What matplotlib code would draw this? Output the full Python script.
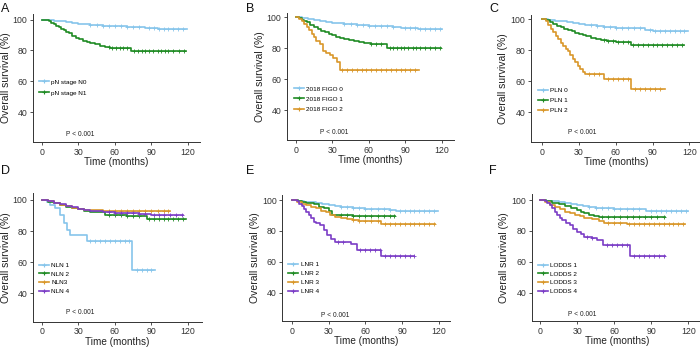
import numpy as np
import matplotlib
matplotlib.use("Agg")
import matplotlib.pyplot as plt
from matplotlib.lines import Line2D

plt.rcParams['font.family'] = ['Liberation Sans', 'DejaVu Sans']

BLUE = '#86C5EB'
GREEN = '#1F8B24'
ORANGE = '#D9972A'
PURPLE = '#7B3DC6'

# ---- panel A: pN stage ----
a_n0_t = [0, 5, 10, 15, 20, 25, 30, 35, 40, 45, 50, 55, 60, 70, 80, 85, 95, 105, 119]
a_n0_s = [100, 99.7, 99.2, 98.8, 98.4, 97.9, 97.4, 97, 96.6, 96.4, 96.1, 95.8, 95.6, 95.4, 95.2, 94.3, 94.0, 93.8, 93.8]
a_n0_c = [40, 45, 50, 55, 60, 65, 70, 75, 80, 88, 92, 96, 100, 104, 108, 112, 116]
a_n1_t = [0, 4, 6, 8, 10, 12, 14, 16, 18, 20, 22, 25, 28, 31, 34, 37, 40, 44, 48, 52, 56, 62, 73, 118]
a_n1_s = [100, 100, 99, 98, 97, 96, 95, 94, 93, 92, 91, 89.5, 88.3, 87.2, 86.2, 85.5, 84.8, 84, 83, 82.2, 81.8, 81.6, 79.5, 79.5]
a_n1_c = [55, 58, 61, 64, 67, 70, 76, 79, 82, 85, 88, 91, 95, 98, 101, 104, 108, 113, 117]

# ---- panel B: 2018 FIGO ----
b_f0_t = [0, 5, 10, 15, 20, 25, 30, 35, 40, 45, 50, 55, 60, 70, 80, 86, 100, 120]
b_f0_s = [100, 99.5, 98.8, 98.2, 97.6, 97.1, 96.6, 96.2, 95.8, 95.4, 95.1, 94.8, 94.6, 94.3, 94, 92.8, 92.6, 92.6]
b_f0_c = [40, 45, 50, 55, 60, 65, 70, 75, 80, 90, 94, 98, 102, 106, 110, 114, 118]
b_f1_t = [0, 3, 5, 7, 9, 12, 15, 18, 21, 24, 27, 30, 33, 36, 40, 44, 48, 52, 56, 62, 68, 75, 119]
b_f1_s = [100, 99.5, 98.5, 97.5, 96.8, 95.3, 94, 92.6, 91.3, 90.2, 89.2, 88.3, 87.5, 86.7, 86, 85.2, 84.5, 83.9, 83.4, 83, 82.6, 80.2, 80.2]
b_f1_c = [62, 66, 70, 77, 80, 83, 86, 89, 92, 96, 99, 102, 106, 110, 114, 118]
b_f2_t = [0, 3, 5, 7, 9, 11, 13, 15, 17, 20, 22, 25, 28, 31, 34, 36, 101]
b_f2_s = [100, 99, 97.5, 95.5, 93.5, 91.5, 89.5, 87, 84.5, 83, 78.5, 77, 75.5, 73.5, 71, 66, 66]
b_f2_c = [38, 42, 46, 50, 54, 58, 62, 66, 70, 74, 78, 82, 86, 90, 94, 98]

# ---- panel C: PLN ----
c_p0_t = [0, 5, 10, 15, 20, 25, 30, 35, 40, 45, 50, 55, 60, 70, 80, 84, 90, 119]
c_p0_s = [100, 99.6, 99.1, 98.6, 98.1, 97.5, 97, 96.5, 96.1, 95.6, 95.2, 94.9, 94.7, 94.4, 94.1, 93.2, 92.7, 92.6]
c_p0_c = [40, 45, 50, 55, 60, 65, 70, 75, 80, 88, 92, 96, 100, 104, 108, 112, 116]
c_p1_t = [0, 3, 6, 9, 12, 15, 18, 21, 24, 27, 30, 33, 36, 40, 44, 48, 53, 60, 72, 116]
c_p1_s = [100, 99.3, 98.2, 97, 96, 95, 94, 93.1, 92.2, 91.3, 90.5, 89.8, 89.1, 88.2, 87.3, 86.6, 86, 85.6, 83.5, 83.5]
c_p1_c = [50, 54, 58, 62, 66, 70, 74, 78, 82, 86, 90, 94, 98, 102, 106, 110, 114]
c_p2_t = [0, 3, 5, 7, 9, 11, 13, 15, 17, 19, 21, 23, 25, 27, 29, 31, 33, 35, 50, 72, 100]
c_p2_s = [100, 99, 96.5, 94, 91.5, 89.5, 87, 84.5, 82.5, 81, 79.5, 77, 74.5, 72.5, 70, 68, 66, 64.4, 61.5, 55, 55]
c_p2_c = [38, 42, 46, 54, 58, 62, 66, 70, 76, 80, 84, 88, 92, 96]

# ---- panel D: NLN ----
d_n1_t = [0, 4, 7, 11, 15, 18, 20.5, 23, 37, 74, 93]
d_n1_s = [100, 98.5, 96.8, 94.6, 90.5, 85, 80.7, 77.5, 73.8, 55, 55]
d_n1_c = [40, 44, 48, 52, 56, 60, 64, 68, 72, 78, 82, 86, 90]
d_n2_t = [0, 5, 10, 15, 20, 25, 30, 35, 40, 45, 52, 60, 70, 80, 86, 118]
d_n2_s = [100, 99, 98, 96.8, 95.8, 94.8, 94, 93.2, 92.6, 92, 90.4, 90.2, 90, 89.5, 88, 88]
d_n2_c = [55, 60, 65, 70, 75, 80, 88, 92, 96, 100, 104, 108, 112, 116]
d_n3_t = [0, 5, 10, 15, 20, 25, 30, 35, 40, 50, 105]
d_n3_s = [100, 99.2, 98.2, 97, 96, 95, 94.3, 93.7, 93.3, 93, 93]
d_n3_c = [55, 60, 65, 70, 75, 80, 85, 90, 95, 100, 104]
d_n4_t = [0, 5, 10, 15, 20, 25, 30, 35, 40, 50, 60, 80, 90, 116]
d_n4_s = [100, 99.3, 98.3, 97.2, 96.2, 95.2, 94.4, 93.8, 93.2, 92.3, 91.8, 91.2, 90.5, 90.5]
d_n4_c = [55, 60, 65, 70, 75, 80, 85, 92, 96, 100, 105, 110, 115]

# ---- panel E: LNR ----
e_l1_t = [0, 5, 10, 15, 20, 25, 30, 35, 40, 45, 50, 55, 60, 70, 80, 85, 119]
e_l1_s = [100, 99.6, 99, 98.4, 97.8, 97.2, 96.6, 96.1, 95.6, 95.2, 94.8, 94.5, 94.3, 94.1, 93.8, 93.1, 93]
e_l1_c = [40, 45, 50, 55, 60, 65, 70, 75, 80, 88, 92, 96, 100, 104, 108, 112, 116]
e_l2_t = [0, 5, 8, 12, 18, 22, 26, 30, 33, 40, 50, 84]
e_l2_s = [100, 99.2, 98.5, 98, 97.5, 95.5, 94.5, 93, 90.5, 90, 89.7, 89.7]
e_l2_c = [40, 45, 50, 55, 60, 65, 70, 75, 80, 83]
e_l3_t = [0, 4, 8, 12, 16, 20, 24, 28, 31, 35, 40, 45, 50, 55, 60, 73, 117]
e_l3_s = [100, 98.5, 97.5, 96.5, 95.5, 94.5, 93.2, 92, 90.5, 89, 88.5, 87.8, 87, 86.5, 86.2, 84.5, 84.5]
e_l3_c = [50, 55, 60, 65, 70, 76, 80, 84, 88, 92, 96, 100, 104, 108, 112, 116]
e_l4_t = [0, 4, 6, 8, 10, 12, 14, 16, 18, 20, 23, 26, 29, 32, 35, 44, 48, 53, 73, 100]
e_l4_s = [100, 99.5, 97.5, 96, 94, 92, 90.5, 88.5, 86, 84.8, 83.5, 80.5, 77.5, 74.5, 73, 72.5, 71.8, 67.8, 64, 64]
e_l4_c = [38, 42, 56, 60, 64, 68, 72, 76, 80, 84, 88, 92, 96, 100]

# ---- panel F: LODDS ----
f_l1_t = [0, 5, 10, 15, 20, 25, 30, 35, 40, 45, 50, 55, 60, 70, 80, 86, 120]
f_l1_s = [100, 99.6, 99.1, 98.5, 97.8, 97.2, 96.6, 96, 95.5, 95.1, 94.8, 94.6, 94.4, 94.2, 93.9, 93, 92.9]
f_l1_c = [40, 45, 50, 55, 60, 65, 70, 75, 80, 90, 94, 98, 102, 106, 110, 114, 118]
f_l2_t = [0, 5, 10, 15, 20, 25, 30, 33, 36, 40, 44, 48, 60, 101]
f_l2_s = [100, 99.2, 98.2, 97.3, 96.2, 95, 93.5, 92.5, 91.5, 90.5, 89.5, 89, 88.8, 88.8]
f_l2_c = [50, 55, 60, 65, 70, 75, 80, 85, 90, 95, 100]
f_l3_t = [0, 4, 8, 12, 16, 20, 24, 28, 32, 36, 42, 48, 52, 60, 70, 117]
f_l3_s = [100, 98.5, 97, 95.5, 94, 92.5, 91.5, 90.5, 89.7, 88.5, 87.5, 86.6, 85.3, 85, 84.5, 84.5]
f_l3_c = [55, 60, 65, 72, 76, 80, 84, 88, 92, 96, 100, 104, 108, 112, 116]
f_l4_t = [0, 4, 6, 8, 10, 12, 14, 16, 18, 21, 24, 27, 30, 33, 36, 42, 46, 51, 73, 101]
f_l4_s = [100, 99.5, 98, 96.5, 94.5, 92.5, 90.5, 88.5, 87, 85, 83.5, 81.5, 79.5, 78, 76.3, 75.5, 74, 71, 63.8, 63.8]
f_l4_c = [38, 42, 54, 58, 62, 66, 70, 76, 80, 84, 88, 92, 96, 100]

panels = [
    ('A', [('pN stage N0', BLUE, a_n0_t, a_n0_s, a_n0_c),
           ('pN stage N1', GREEN, a_n1_t, a_n1_s, a_n1_c)]),
    ('B', [('2018 FIGO 0', BLUE, b_f0_t, b_f0_s, b_f0_c),
           ('2018 FIGO 1', GREEN, b_f1_t, b_f1_s, b_f1_c),
           ('2018 FIGO 2', ORANGE, b_f2_t, b_f2_s, b_f2_c)]),
    ('C', [('PLN 0', BLUE, c_p0_t, c_p0_s, c_p0_c),
           ('PLN 1', GREEN, c_p1_t, c_p1_s, c_p1_c),
           ('PLN 2', ORANGE, c_p2_t, c_p2_s, c_p2_c)]),
    ('D', [('NLN 1', BLUE, d_n1_t, d_n1_s, d_n1_c),
           ('NLN 2', GREEN, d_n2_t, d_n2_s, d_n2_c),
           ('NLN3', ORANGE, d_n3_t, d_n3_s, d_n3_c),
           ('NLN 4', PURPLE, d_n4_t, d_n4_s, d_n4_c)]),
    ('E', [('LNR 1', BLUE, e_l1_t, e_l1_s, e_l1_c),
           ('LNR 2', GREEN, e_l2_t, e_l2_s, e_l2_c),
           ('LNR 3', ORANGE, e_l3_t, e_l3_s, e_l3_c),
           ('LNR 4', PURPLE, e_l4_t, e_l4_s, e_l4_c)]),
    ('F', [('LODDS 1', BLUE, f_l1_t, f_l1_s, f_l1_c),
           ('LODDS 2', GREEN, f_l2_t, f_l2_s, f_l2_c),
           ('LODDS 3', ORANGE, f_l3_t, f_l3_s, f_l3_c),
           ('LODDS 4', PURPLE, f_l4_t, f_l4_s, f_l4_c)]),
]

W, H = 700, 349
# pixel layout: left, right, top, bottom, x(0), x(120), y(100), y(40)
layout = {
    'A': (33, 200, 14, 142, 41.7, 188, 19.5, 112),
    'B': (287, 454, 13, 140, 295.7, 442, 17.3, 110),
    'C': (530.7, 702, 15, 142, 542.3, 689.3, 19.3, 112.3),
    'D': (33, 201.7, 193.3, 321.7, 41.7, 188, 200, 293.3),
    'E': (282.3, 450, 195, 321, 291.7, 439, 200, 292.7),
    'F': (531.7, 702, 194, 321, 540, 688.3, 200, 292.7),
}
# legend: x frac, centre y frac, labelspacing ; p-text position (months, %)
leg_pos = {'A': (0.035, 0.426, 0.87), 'B': (0.042, 0.323, 0.72), 'C': (0.04, 0.329, 0.72),
           'D': (0.035, 0.338, 0.53), 'E': (0.035, 0.345, 0.55), 'F': (0.035, 0.336, 0.53)}
p_pos = {'A': (19.7, 25.5), 'B': (20, 25.6), 'C': (21.2, 27), 'D': (19.7, 27.8),
         'E': (23.6, 25.1), 'F': (22.9, 26)}
letter_pos = {'A': (1, 3), 'B': (246, 3), 'C': (489, 3), 'D': (1, 165), 'E': (246, 165), 'F': (489, 165)}

fig = plt.figure(figsize=(7, 3.49), dpi=100)

for name, curves in panels:
    l, r, t, b, x0, x120, y100, y40 = layout[name]
    ax = fig.add_axes([l / W, 1 - b / H, (r - l) / W, (b - t) / H])
    xs = (x120 - x0) / 120
    ys = (y40 - y100) / 60
    ax.set_xlim((l - x0) / xs, (r - x0) / xs)
    ax.set_ylim(40 - (b - y40) / ys, 100 + (y100 - t) / ys)

    handles = []
    for label, col, tt, ss, cc in curves:
        tt = np.array(tt, dtype=float)
        ss = np.array(ss, dtype=float)
        ax.step(tt, ss, where='post', color=col, lw=1.2)
        cc = np.array(cc, dtype=float)
        cs = ss[np.searchsorted(tt, cc, side='right') - 1]
        ax.plot(cc, cs, ls='none', marker='+', ms=3, mew=0.6, color=col)
        handles.append(Line2D([], [], color=col, lw=1.2, marker='+', ms=3.5, mew=0.8, label=label))

    lx, ly, lsp = leg_pos[name]
    ax.legend(handles=handles, loc='center left', bbox_to_anchor=(lx, ly), frameon=False,
              fontsize=4.6, handlelength=1.6, handletextpad=0.35, labelspacing=lsp,
              borderpad=0, borderaxespad=0)

    px, py = p_pos[name]
    ax.text(px, py, 'P < 0.001', fontsize=4.8, ha='left', va='center', color='#222222')

    ax.set_xticks([0, 30, 60, 90, 120])
    ax.set_yticks([40, 60, 80, 100])
    ax.tick_params(labelsize=6.3, length=2.5, width=0.6, colors='#333333', pad=1.5)
    for sp in ['top', 'right']:
        ax.spines[sp].set_visible(False)
    for sp in ['left', 'bottom']:
        ax.spines[sp].set_linewidth(0.7)
        ax.spines[sp].set_color('#333333')
    ax.set_xlabel('Time (months)', fontsize=7.2, labelpad=0.5, color='#222222')
    ax.set_ylabel('Overall survival (%)', fontsize=7.5, labelpad=1.5, color='#222222')

    lx_, ly_ = letter_pos[name]
    fig.text(lx_ / W, 1 - ly_ / H, name, fontsize=9, va='top', ha='left', color='#111111')

fig.savefig('out.png', dpi=100)
